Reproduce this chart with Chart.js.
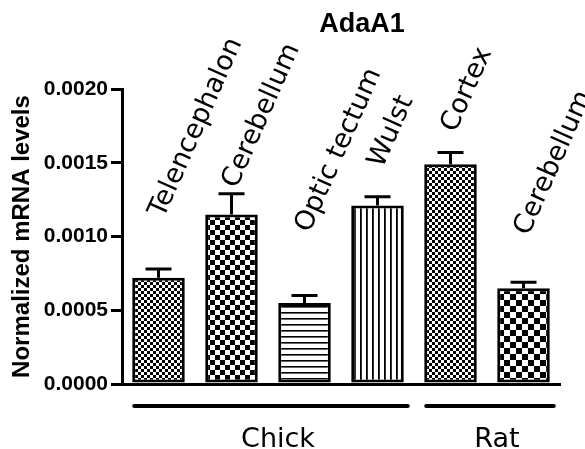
<!DOCTYPE html>
<html>
<head>
<meta charset="utf-8">
<script src="https://cdn.jsdelivr.net/npm/chart.js@4.4.1/dist/chart.umd.min.js"></script>
<style>
  html, body { margin: 0; padding: 0; background: #fff; }
  #wrap { width: 585px; height: 449px; }
</style>
</head>
<body>
<div id="wrap"><canvas id="adaChart"></canvas></div>
<script>
// data
const tissues = ['Telencephalon', 'Cerebellum', 'Optic tectum', 'Wulst', 'Cortex', 'Cerebellum'];
const species = ['Chick', 'Chick', 'Chick', 'Chick', 'Rat', 'Rat'];
const mrnaLevels = [0.00072, 0.00115, 0.00055, 0.00121, 0.00149, 0.00065];
const errTop = [0.00078, 0.00129, 0.00060, 0.00127, 0.00157, 0.00069];
const yTicks = [0, 0.0005, 0.0010, 0.0015, 0.0020];

// where each rotated label starts (y value units), and fill patterns per bar
const labelBase = [0.00112, 0.00132, 0.00102, 0.00146, 0.00170, 0.00100];
const fills = ['fine', 'checker5', 'hlines', 'vlines', 'fine', 'checker6'];

function makePattern(kind) {
    const c = document.createElement('canvas');
    const g = c.getContext('2d');
    if (kind === 'fine' || kind.startsWith('checker')) {
        const s = kind === 'fine' ? 3 : parseInt(kind.slice(7));
        c.width = c.height = s * 2;
        g.fillStyle = '#fff';
        g.fillRect(0, 0, s * 2, s * 2);
        g.fillStyle = '#000';
        g.fillRect(0, 0, s, s);
        g.fillRect(s, s, s, s);
    } else if (kind === 'hlines') {
        c.width = c.height = 6;
        g.fillStyle = '#fff';
        g.fillRect(0, 0, 6, 6);
        g.fillStyle = '#000';
        g.fillRect(0, 0, 6, 1.6);
    } else {
        c.width = c.height = 6;
        g.fillStyle = '#fff';
        g.fillRect(0, 0, 6, 6);
        g.fillStyle = '#000';
        g.fillRect(0, 0, 1.8, 6);
    }
    return g.createPattern(c, 'repeat');
}

const decorations = {
    id: 'decorations',
    afterDatasetsDraw(chart) {
        const ctx = chart.ctx;
        const x = chart.scales.x;
        const y = chart.scales.y;
        const meta = chart.getDatasetMeta(0);
        ctx.save();

        // error bars (upper only)
        ctx.strokeStyle = '#000';
        ctx.lineWidth = 3;
        errTop.forEach((e, i) => {
            const cx = x.getPixelForValue(i);
            const yTop = y.getPixelForValue(e);
            const yBar = y.getPixelForValue(mrnaLevels[i]);
            ctx.beginPath();
            ctx.moveTo(cx, yBar);
            ctx.lineTo(cx, yTop);
            ctx.moveTo(cx - 13, yTop);
            ctx.lineTo(cx + 13, yTop);
            ctx.stroke();
        });

        // rotated tissue labels
        ctx.fillStyle = '#000';
        ctx.font = '27px "DejaVu Sans"';
        ctx.textAlign = 'left';
        ctx.textBaseline = 'alphabetic';
        tissues.forEach((t, i) => {
            const cx = x.getPixelForValue(i);
            ctx.save();
            ctx.translate(cx + 5, y.getPixelForValue(labelBase[i]));
            ctx.rotate(-66 * Math.PI / 180);
            ctx.fillText(t, 0, 0);
            ctx.restore();
        });

        // species group lines and names
        const groups = [...new Set(species)];
        ctx.lineWidth = 4;
        ctx.lineCap = 'round';
        ctx.font = '27px "DejaVu Sans"';
        ctx.textAlign = 'center';
        ctx.textBaseline = 'middle';
        const lineY = chart.chartArea.bottom + 22;
        groups.forEach(g => {
            const idx = species.map((s, i) => s === g ? i : -1).filter(i => i >= 0);
            const first = meta.data[idx[0]];
            const last = meta.data[idx[idx.length - 1]];
            const x0 = first.x - first.width / 2 + 2;
            const x1 = last.x + last.width / 2 + 4;
            ctx.beginPath();
            ctx.moveTo(x0, lineY);
            ctx.lineTo(x1, lineY);
            ctx.stroke();
            ctx.fillText(g, (x0 + x1) / 2 + 7, lineY + 34);
        });

        // title
        ctx.font = 'bold 27px "Liberation Sans"';
        ctx.fillText('AdaA1', 362, 25);
        ctx.restore();
    }
};

const ctxAda = document.getElementById('adaChart').getContext('2d');
new Chart(ctxAda, {
    type: 'bar',
    data: {
        labels: tissues,
        datasets: [{
            data: mrnaLevels,
            backgroundColor: fills.map(makePattern),
            borderColor: '#000',
            borderWidth: 3,
            borderSkipped: false,
            categoryPercentage: 1,
            barPercentage: 0.72
        }]
    },
    options: {
        responsive: true,
        maintainAspectRatio: false,
        animation: false,
        layout: {
            padding: { left: 0, right: 25, top: 89, bottom: 57 }
        },
        plugins: {
            legend: { display: false },
            tooltip: { enabled: false }
        },
        scales: {
            x: {
                ticks: { display: false },
                grid: { display: false },
                border: { display: true, color: '#000', width: 3 }
            },
            y: {
                min: 0,
                max: 0.002,
                afterFit(scale) { scale.width = 122; },
                afterBuildTicks(scale) { scale.ticks = yTicks.map(v => ({ value: v })); },
                ticks: {
                    color: '#000',
                    padding: 3,
                    font: { family: 'Liberation Sans', size: 21, weight: 'bold' },
                    callback: v => v.toFixed(4)
                },
                grid: {
                    drawOnChartArea: false,
                    drawTicks: true,
                    tickLength: 11,
                    color: '#000',
                    lineWidth: 3
                },
                border: { display: true, color: '#000', width: 3 },
                title: {
                    display: true,
                    text: 'Normalized mRNA levels',
                    color: '#000',
                    padding: { top: 8, bottom: 0 },
                    font: { family: 'Liberation Sans', size: 24, weight: 'bold' }
                }
            }
        }
    },
    plugins: [decorations]
});
</script>
</body>
</html>
